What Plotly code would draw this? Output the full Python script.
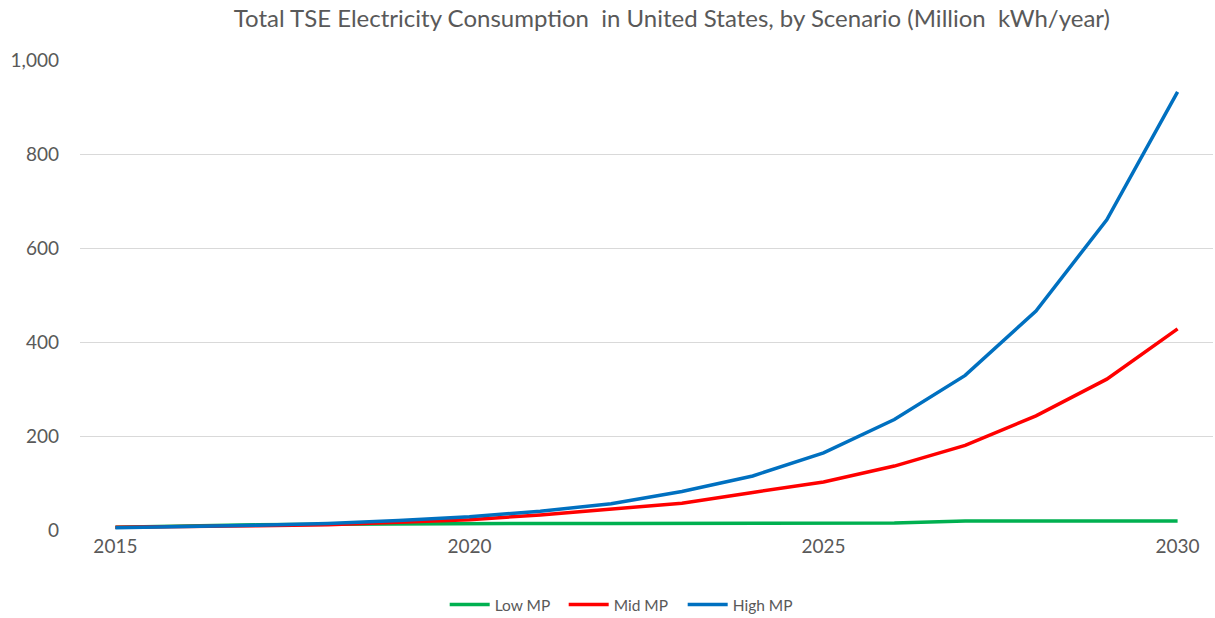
import plotly.graph_objects as go

years = list(range(2015, 2031))
low_mp = [6, 9, 11, 12, 13, 14, 14, 14, 14, 14, 14, 15, 19, 19, 19, 19]
mid_mp = [6, 7, 9, 11, 16, 22, 32, 44, 57, 80, 102, 136, 180, 243, 321, 428]
high_mp = [5, 7, 10, 14, 20, 28, 40, 56, 82, 115, 164, 235, 329, 466, 660, 932]

series = [("Low MP", low_mp, "#00B050"), ("Mid MP", mid_mp, "#FF0000"), ("High MP", high_mp, "#0070C0")]

fig = go.Figure()
for name, vals, col in series:
    fig.add_trace(go.Scatter(x=years, y=vals, name=name, mode="lines",
                             line=dict(color=col, width=3.5)))

fnt = "Lato, Open Sans, sans-serif"
fig.update_layout(
    width=1215, height=618,
    margin=dict(l=80, r=2, t=60, b=88, autoexpand=False),
    paper_bgcolor="white", plot_bgcolor="white",
    font=dict(family=fnt, color="#595959"),
    title=dict(text="Total TSE Electricity Consumption&nbsp; in United States, by Scenario (Million&nbsp; kWh/year)",
               x=0.553, xanchor="center", y=0.97, yanchor="middle",
               font=dict(size=24, color="#595959", family=fnt)),
    xaxis=dict(range=[2014.5, 2030.5], tickvals=[2015, 2020, 2025, 2030],
               showgrid=False, zeroline=False, showline=False,
               tickfont=dict(size=19, color="#595959"), ticks="", ticklabelstandoff=3),
    yaxis=dict(range=[0, 1000], tickvals=[0, 200, 400, 600, 800, 1000], tickformat=",",
               showgrid=True, gridcolor="#D9D9D9", gridwidth=1, zeroline=False, showline=False,
               tickfont=dict(size=19, color="#595959"), ticks="", ticklabelstandoff=20),
    legend=dict(orientation="h", xref="container", x=0.366, xanchor="left",
                yref="container", y=0.021, yanchor="middle",
                font=dict(size=15.5, color="#595959"), itemwidth=40, entrywidth=64),
    showlegend=True,
)
fig.write_html("out.html")
